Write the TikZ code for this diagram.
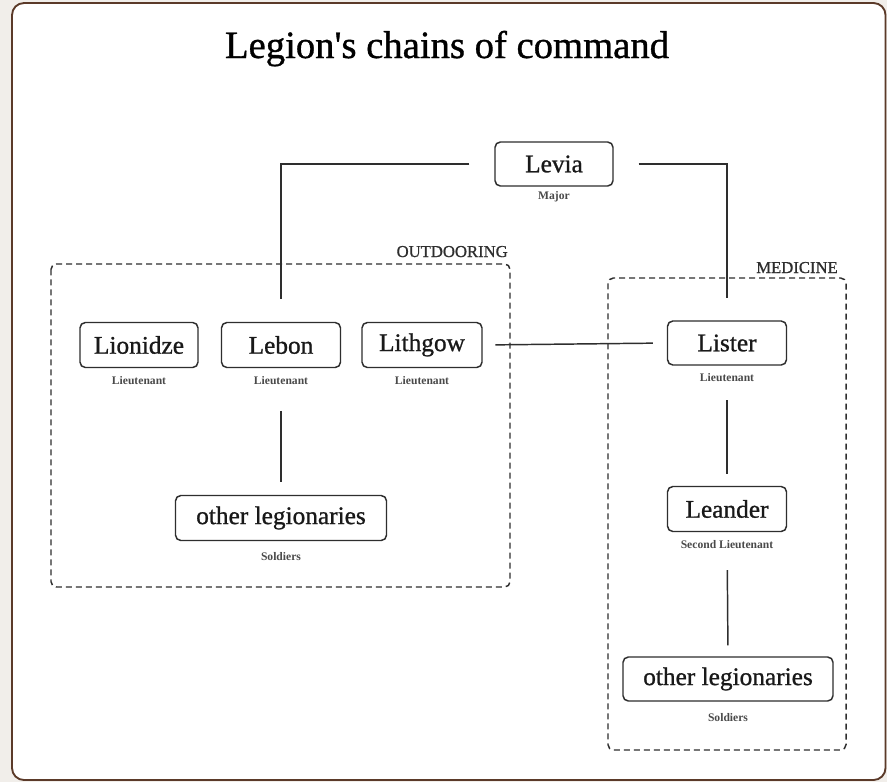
\documentclass[tikz,border=0pt]{standalone}
\usepackage{fontspec}
\setmainfont{Liberation Serif}
\newfontfamily\semib[FakeBold=0.9]{Liberation Serif}
\definecolor{frameC}{HTML}{5B3A29}
\definecolor{pageC}{HTML}{F1EEEA}
\definecolor{inkC}{HTML}{2E2E2E}
\definecolor{subC}{HTML}{4A4A4A}
\tikzset{
  namebox/.style={draw=inkC, line width=1.1pt, rounded corners=4pt, inner sep=0pt,
    font=\semib\fontsize{19}{21}\selectfont, text=black!90},
  rank/.style={font=\fontsize{8.7}{10}\selectfont\bfseries, text=subC, inner sep=0pt},
  link/.style={draw=inkC, line width=1.1pt},
  group/.style={draw=inkC, line width=1.1pt, dash pattern=on 4.5pt off 3pt, rounded corners=4pt},
  grouplabel/.style={font=\semib\fontsize{12.5}{14}\selectfont, text=inkC, inner sep=0pt, anchor=base east},
}
\begin{document}
\begin{tikzpicture}[x=0.75pt,y=-0.75pt]
\useasboundingbox (0,0) rectangle (887,782);
\fill[pageC] (0,0) rectangle (887,782);
\draw[frameC, line width=1.4pt, fill=white, rounded corners=9pt] (12,3) rectangle (885.5,780);

\node[font=\semib\fontsize{29}{32}\selectfont, inner sep=0pt, anchor=base] (title) at (447,58) {Legion\textquotesingle s chains of command};

% groups
\draw[group] (51,264) rectangle (510,587);
\node[grouplabel] (glo) at (508,257) {OUTDOORING};
\draw[group] (608,278) rectangle (846,750);
\node[grouplabel] (glm) at (838,273) {MEDICINE};

% name boxes
\node[namebox, minimum width=88.5pt, minimum height=33pt] (levia) at (554,164) {Levia};
\node[rank] (levias) at (554,197) {Major};

\node[namebox, minimum width=88.5pt, minimum height=33.75pt] (lionidze) at (139,345) {Lionidze};
\node[rank] (lionidzes) at (139,381) {Lieutenant};

\node[namebox, minimum width=89.25pt, minimum height=33.75pt] (lebon) at (281,345) {Lebon};
\node[rank] (lebons) at (281,381) {Lieutenant};

\node[namebox, minimum width=90pt, minimum height=33.75pt] (lithgow) at (422,345) {Lithgow};
\node[rank] (lithgows) at (422,381) {Lieutenant};

\node[namebox, minimum width=158.25pt, minimum height=33.75pt] (otherL) at (281,518) {other legionaries};
\node[rank] (otherLs) at (281,557) {Soldiers};

\node[namebox, minimum width=89.25pt, minimum height=33pt] (lister) at (727,343) {Lister};
\node[rank] (listers) at (727,378) {Lieutenant};

\node[namebox, minimum width=89.25pt, minimum height=33.75pt] (leander) at (727,509) {Leander};
\node[rank] (leanders) at (727,545) {Second Lieutenant};

\node[namebox, minimum width=157.5pt, minimum height=33pt] (otherR) at (728,679) {other legionaries};
\node[rank] (otherRs) at (728,718) {Soldiers};

% connectors
\draw[link, shorten <=18.75pt, shorten >=17pt] (levia.west) -| (lebon.north);
\draw[link, shorten <=18.75pt, shorten >=17pt] (levia.east) -| (lister.north);
\draw[link, shorten <=9.5pt, shorten >=10.5pt] (lithgow.east) -- (lister.west);
\draw[link, shorten <=32pt, shorten >=9.75pt] (lebon.south) -- (otherL.north);
\draw[link, shorten <=26pt, shorten >=9pt] (lister.south) -- (leander.north);
\draw[link, shorten <=28.5pt, shorten >=8.25pt] (leander.south) -- (otherR.north);
\end{tikzpicture}
\end{document}
